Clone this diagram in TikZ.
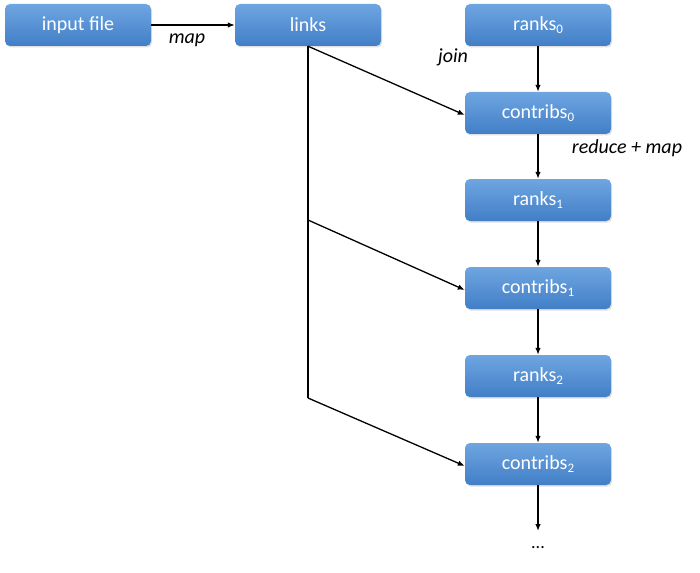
\documentclass[tikz,border=0pt]{standalone}
\usepackage{fontspec}
\setmainfont{Carlito}
\usetikzlibrary{arrows.meta,shadows}
\definecolor{boxtop}{RGB}{110,166,226}
\definecolor{boxbot}{RGB}{66,126,198}
\newcommand\sbs[1]{\raisebox{-0.35ex}{\fontsize{13}{13}\selectfont #1}}
\begin{document}
\begin{tikzpicture}[x=1pt,y=-1pt,
  blockbox/.style={rounded corners=5pt, minimum width=146pt, minimum height=42pt,
    top color=boxtop, bottom color=boxbot, draw=none, text=white,
    font=\fontsize{20}{24}\selectfont, inner sep=0pt,
    drop shadow={opacity=0.25, shadow xshift=1pt, shadow yshift=-1.5pt}},
  lbl/.style={font=\fontsize{20}{24}\selectfont\itshape, inner sep=0pt},
  arr/.style={-{Latex[length=7pt,width=5.5pt]}, line width=1.3pt},
  ln/.style={line width=1.3pt}]
\useasboundingbox (0,0) rectangle (700,572);
\node[blockbox] (inp) at (78,25) {input file};
\node[blockbox] (links) at (308,25) {links};
\node[blockbox] (r0) at (538,25) {ranks\sbs{0}};
\node[blockbox] (c0) at (538,113) {contribs\sbs{0}};
\node[blockbox] (r1) at (538,200) {ranks\sbs{1}};
\node[blockbox] (c1) at (538,288) {contribs\sbs{1}};
\node[blockbox] (r2) at (538,376) {ranks\sbs{2}};
\node[blockbox] (c2) at (538,464) {contribs\sbs{2}};
\node[inner sep=0pt, font=\fontsize{18}{20}\selectfont] (dots) at (538,548) {...};
\coordinate (dend) at (538,531);
\coordinate (b1) at (308,220);
\coordinate (b2) at (308,398);

\node[lbl] (lmap) at (187,40) {map};
\node[lbl] (ljoin) at (453,57) {join};
\node[lbl] (lred) at (627,148) {reduce + map};

\draw[arr] (inp) -- (links);
\draw[arr] (r0) -- (c0);
\draw[arr] (c0) -- (r1);
\draw[arr] (r1) -- (c1);
\draw[arr] (c1) -- (r2);
\draw[arr] (r2) -- (c2);
\draw[arr] (c2) -- (dend);
\draw[ln] (links.south) -- (b2);
\draw[arr] (links.south) -- ([yshift=-2pt]c0.west);
\draw[arr] (b1) -- ([yshift=-2pt]c1.west);
\draw[arr] (b2) -- ([yshift=-2pt]c2.west);
\end{tikzpicture}
\end{document}
